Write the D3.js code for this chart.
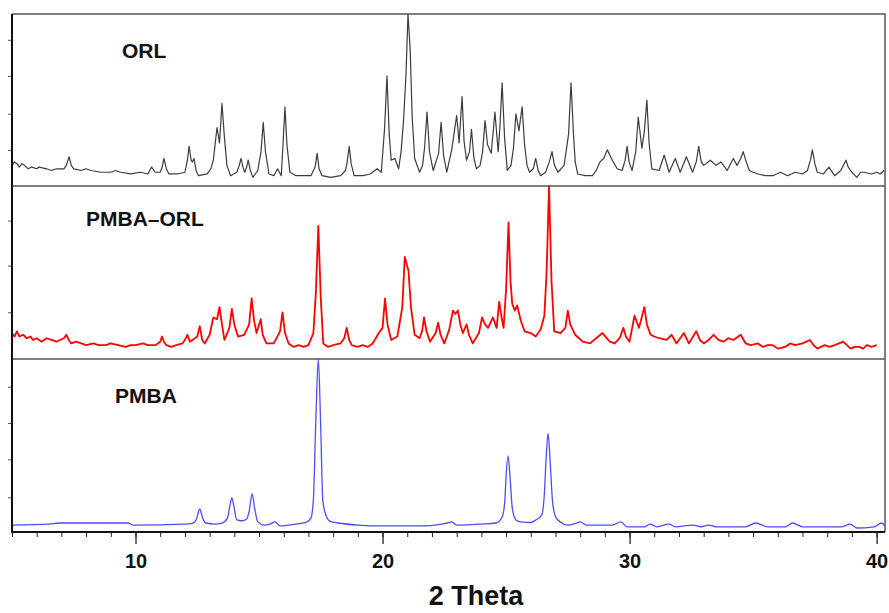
<!DOCTYPE html>
<html>
<head>
<meta charset="utf-8">
<script src="https://cdn.jsdelivr.net/npm/d3@7"></script>
<style>
  body { margin: 0; background: #fff; }
  text { font-family: Arial, "Liberation Sans", sans-serif; font-weight: bold; }
</style>
</head>
<body>
<svg id="xrd"></svg>
<script>
// 2 Theta (deg) vs relative intensity (% of panel height)
const orl = [
  [5.0,12],[5.1,14],[5.2,13],[5.3,11],[5.4,13],[5.5,12],[5.65,10],[5.8,11],[6.0,10],[6.1,11],[6.4,10],[6.6,9],[6.8,10],[7.1,10],[7.2,12],[7.31,17],
  [7.4,12],[7.5,10],[7.8,9],[8.0,10],[8.2,9],[8.6,8],[9.0,8],[9.2,9],[9.4,8],[9.8,7],[10.2,8],[10.5,7],[10.65,11],
  [10.8,8],[11.0,8],[11.08,11],[11.15,16],[11.25,10],[11.35,7],[11.7,7],[12.0,8],[12.1,15],[12.17,23],[12.25,15],[12.3,14],[12.37,16],[12.45,9],[12.55,6],
  [12.9,7],[13.05,10],[13.15,15],[13.22,24],[13.3,34],[13.4,25],[13.5,48],[13.6,28],[13.7,12],[13.85,6],[14.1,8],[14.2,12],[14.27,16],[14.35,11],[14.42,8],
  [14.5,11],[14.56,15],[14.65,9],[14.75,5],[14.95,9],[15.08,20],[15.17,37],[15.26,20],[15.4,7],[15.6,6],[15.75,10],[15.9,6],[15.97,24],[16.05,46],[16.13,24],[16.25,8],
  [16.5,6],[16.8,6],[17.1,6],[17.27,11],[17.35,19],[17.43,10],[17.55,6],[17.9,5],[18.3,6],[18.5,9],[18.57,14],[18.65,23],[18.73,13],[18.85,6],[19.2,6],
  [19.5,7],[19.78,10],[19.95,8],[20.08,33],[20.18,64],[20.27,30],[20.35,15],[20.5,16],[20.65,10],[20.75,20],[20.85,38],[20.95,65],[21.03,100],[21.12,79],
  [21.2,40],[21.3,16],[21.5,8],[21.62,12],[21.7,22],[21.8,43],[21.9,20],[22.05,9],[22.27,19],[22.37,37],[22.47,18],[22.6,8],[22.8,21],[23.0,41],[23.1,25],[23.22,52],
  [23.3,26],[23.4,15],[23.52,20],[23.6,33],[23.7,16],[23.8,10],[23.95,12],[24.05,20],[24.15,38],[24.25,24],[24.4,19],[24.55,43],[24.68,20],[24.75,34],[24.84,60],[24.94,28],[25.05,9],[25.2,12],[25.3,22],[25.4,42],
  [25.52,32],[25.65,46],[25.75,24],[25.85,12],[25.95,8],[26.1,10],[26.2,16],[26.3,9],[26.4,6],[26.6,8],[26.75,14],[26.86,20],[26.96,12],[27.1,8],[27.35,12],[27.53,30],[27.63,60],[27.73,30],[27.8,14],[27.9,7],
  [28.2,6],[28.5,6],[28.65,9],[28.8,14],[28.95,16],[29.1,21],[29.3,15],[29.5,10],[29.7,9],[29.82,15],[29.9,23],[29.98,14],[30.1,9],
  [30.25,20],[30.35,40],[30.5,22],[30.6,32],[30.7,50],[30.79,25],[30.9,10],[31.2,9],[31.4,18],[31.6,8],[31.85,16],[32.05,8],[32.3,17],
  [32.55,8],[32.7,14],[32.8,23],[32.9,14],[33.0,12],[33.27,15],[33.5,12],[33.7,14],[33.95,9],[34.2,16],[34.35,12],[34.5,16],[34.6,20],
  [34.7,15],[34.85,9],[35.0,8],[35.2,7],[35.5,6],[35.8,6],[36.1,8],[36.4,6],[36.7,8],[37.0,7],[37.2,9],[37.32,15],[37.4,21],
  [37.5,13],[37.6,8],[37.85,7],[38.07,11],[38.3,6],[38.55,9],[38.76,15],[38.85,11],[39.0,8],[39.2,5],[39.35,8],[39.5,8],[39.8,7],
  [40.0,8],[40.15,7],[40.3,9]
];

const pmbaOrl = [
  [5.0,15],[5.1,13],[5.2,16],[5.3,13],[5.45,14],[5.6,12],[5.75,13],[5.85,11],[6.0,12],[6.2,10],[6.4,12],[6.6,11],[6.8,10],[6.95,11],[7.1,12],[7.2,14],[7.3,11],[7.4,9],[7.6,10],[7.8,9],
  [8.0,8],[8.3,9],[8.5,8],[8.8,8],[9.0,9],[9.3,8],[9.6,7],[9.8,8],[10.0,8],[10.3,9],[10.5,8],[10.8,8],[11.0,10],[11.07,13],[11.15,10],[11.25,8],[11.45,7],[11.65,8],[11.9,9],
  [12.0,11],[12.1,14],[12.2,10],[12.3,11],[12.5,13],[12.6,19],[12.7,11],[12.8,9],[13.0,14],[13.15,24],[13.3,23],[13.4,30],[13.5,20],[13.6,11],[13.8,18],[13.9,29],[14.0,20],
  [14.15,13],[14.4,14],[14.6,20],[14.7,35],[14.8,22],[14.9,15],[15.07,23],[15.15,14],[15.3,9],[15.6,9],[15.85,16],[15.95,27],[16.05,15],[16.2,9],[16.4,7],[16.6,8],
  [16.8,7],[17.0,8],[17.2,15],[17.3,38],[17.4,77],[17.5,35],[17.6,9],[17.8,7],[18.0,8],[18.3,9],[18.45,12],[18.55,18],[18.65,11],[18.75,8],[19.0,7],[19.2,8],[19.4,7],[19.6,9],
  [19.85,15],[20.0,18],[20.1,35],[20.2,20],[20.35,11],[20.6,13],[20.8,30],[20.9,59],[21.05,51],[21.15,30],[21.3,14],[21.5,12],[21.6,16],[21.68,24],[21.78,16],[21.92,10],
  [22.15,15],[22.25,21],[22.35,14],[22.5,9],[22.7,17],[22.85,28],[22.95,26],[23.05,28],[23.15,20],[23.25,15],[23.4,20],[23.5,14],[23.65,9],[23.9,15],[24.03,24],[24.15,20],[24.27,18],
  [24.47,24],[24.62,18],[24.72,33],[24.82,24],[24.9,18],[25.0,40],[25.1,79],[25.18,45],[25.25,32],[25.35,28],[25.45,31],[25.6,22],[25.75,16],[26.0,15],[26.2,13],[26.4,17],
  [26.55,25],[26.64,50],[26.74,100],[26.84,45],[26.95,16],[27.2,15],[27.4,18],[27.5,28],[27.6,20],[27.8,14],[28.1,10],[28.4,9],[28.65,12],[28.9,15],
  [29.2,10],[29.4,9],[29.6,12],[29.75,18],[29.85,13],[30.0,10],[30.2,25],[30.38,18],[30.6,30],[30.7,20],[30.85,14],[31.0,13],[31.2,12],[31.5,11],[31.7,14],
  [31.9,9],[32.2,15],[32.4,9],[32.7,16],[32.85,11],[33.0,9],[33.2,11],[33.4,14],[33.6,11],[33.8,10],[34.0,12],[34.2,11],[34.5,14],[34.7,9],[34.9,8],
  [35.2,9],[35.4,7],[35.6,8],[35.8,8],[36.0,6],[36.3,7],[36.5,9],[36.7,8],[37.0,9],[37.3,11],[37.45,8],[37.6,6],[37.9,8],[38.1,7],[38.3,8],[38.65,10],
  [38.8,8],[38.95,6],[39.1,7],[39.3,7],[39.45,6],[39.6,8],[39.8,7],[40.0,8]
];

const pmba = [
  [5.0,4],[6.5,4.6],[6.9,5.2],[8.5,5.2],[9.7,5.2],[9.9,4],[12.0,4.6],[12.3,5],[12.48,8],[12.6,13.3],
  [12.72,8],[12.85,5.2],[13.2,4.6],[13.5,5.2],[13.72,8],[13.82,15],[13.9,19.7],[13.98,15],[14.1,7],[14.3,6.5],
  [14.5,7.5],[14.6,12],[14.72,22],[14.82,14],[14.95,6],[15.2,4],[15.45,4.6],[15.65,5.8],[15.85,3.5],[16.5,4.6],
  [16.9,5.5],[17.1,8],[17.2,18.5],[17.3,65],[17.4,100],[17.5,59],[17.58,18.5],[17.7,10],[17.9,6],[18.2,5.2],
  [19.0,4],[20.0,3.5],[21.5,3.5],[22.4,4.6],[22.6,5.2],[22.8,5.8],[23.0,4],[24.0,4.6],[24.6,5.2],[24.85,9],
  [24.95,18],[25.0,32],[25.08,44],[25.17,30],[25.25,14],[25.4,7],[25.6,5.8],[26.0,5.5],[26.2,6.9],[26.45,10],
  [26.55,22],[26.62,42],[26.7,57],[26.78,42],[26.88,18],[27.0,9],[27.2,5.8],[27.5,4],[27.85,5.2],[28.0,5.8],
  [28.25,4],[29.0,4],[29.3,4],[29.65,5.8],[29.9,3],[30.6,3],[30.83,4.6],[31.1,3],[31.6,4.6],[31.85,3],
  [32.57,4],[32.9,3],[33.2,4],[33.5,3],[34.7,3],[35.1,5.2],[35.6,3],[36.3,3],[36.6,5.2],[37.0,3],
  [38.6,3],[38.93,4.6],[39.2,2.3],[39.9,3],[40.2,5.2],[40.34,3.5]
];

const panelNames = ["ORL", "PMBA\u2013ORL", "PMBA"];
const panelColors = ["#3c3c3c", "#ff0000", "#4d4dff"];
const panelTicks = [[21, 42, 64, 85], [27, 54, 80], [20, 42, 63, 84]];
const majorTicks = [10, 20, 30, 40];
const minorTicks = d3.range(5, 41, 1);
const xLabel = "2 Theta";

// layout
const width = 889, height = 613;
const left = 12, right = 885;
const bounds = [14, 186, 359, 532];       // panel edges, top to bottom
const labelX = [122, 86, 115];
const labelDy = [44, 40, 44];
const strokeW = [1.2, 1.8, 1.3];

const svg = d3.select("#xrd")
  .attr("width", width)
  .attr("height", height)
  .style("background", "#fff");

const x = d3.scaleLinear().domain([5, 40.34]).range([left, right]);

const series = [orl, pmbaOrl, pmba];

series.forEach((data, i) => {
  const top = bounds[i], bottom = bounds[i + 1];
  const y = d3.scaleLinear().domain([0, 100]).range([bottom, top]);

  const line = d3.line()
    .x(d => x(d[0]))
    .y(d => y(d[1]))
    .curve(i === 2 ? d3.curveMonotoneX : d3.curveLinear);

  svg.append("path")
    .datum(data)
    .attr("d", line)
    .attr("fill", "none")
    .attr("stroke", panelColors[i])
    .attr("stroke-width", strokeW[i])
    .attr("stroke-linejoin", "round");

  // small unlabeled ticks on the left edge
  svg.append("g")
    .attr("transform", `translate(${left},0)`)
    .call(d3.axisLeft(y).tickValues(panelTicks[i]).tickSize(4).tickFormat(""))
    .call(g => g.select(".domain").remove())
    .call(g => g.selectAll("line").attr("stroke", "#555"));

  svg.append("text")
    .attr("x", labelX[i])
    .attr("y", top + labelDy[i])
    .attr("font-size", 21)
    .attr("fill", "#111")
    .text(panelNames[i]);
});

// panel separators and outer frame
[bounds[1], bounds[2]].forEach(b => {
  svg.append("line")
    .attr("x1", left).attr("x2", right)
    .attr("y1", b).attr("y2", b)
    .attr("stroke", "#555").attr("stroke-width", 1.5);
});

svg.append("path")
  .attr("d", `M${left},${bounds[0]}H${right}V${bounds[3]}`)
  .attr("fill", "none")
  .attr("stroke", "#555")
  .attr("stroke-width", 1.5);

// x axis: minor ticks every degree, major ticks labeled
const xAxisY = bounds[3];
svg.append("g")
  .attr("transform", `translate(0,${xAxisY})`)
  .call(d3.axisBottom(x).tickValues(minorTicks).tickSize(5).tickFormat(""))
  .call(g => g.select(".domain").remove())
  .call(g => g.selectAll("line").attr("stroke", "#222"));

svg.append("g")
  .attr("transform", `translate(0,${xAxisY})`)
  .call(d3.axisBottom(x).tickValues(majorTicks).tickSize(12).tickPadding(10).tickFormat(d3.format("d")))
  .call(g => g.select(".domain").remove())
  .call(g => g.selectAll("line").attr("stroke", "#222").attr("stroke-width", 1.3))
  .call(g => g.selectAll("text")
    .attr("font-size", 20)
    .attr("font-family", "Arial, 'Liberation Sans', sans-serif")
    .attr("font-weight", "bold")
    .attr("fill", "#111"));

// thick black left and bottom axis lines
svg.append("path")
  .attr("d", `M${left},${bounds[0]}V${xAxisY}H${right}`)
  .attr("fill", "none")
  .attr("stroke", "#111")
  .attr("stroke-width", 2);

svg.append("text")
  .attr("x", 476)
  .attr("y", 605)
  .attr("text-anchor", "middle")
  .attr("font-size", 27)
  .attr("fill", "#111")
  .text(xLabel);
</script>
</body>
</html>
